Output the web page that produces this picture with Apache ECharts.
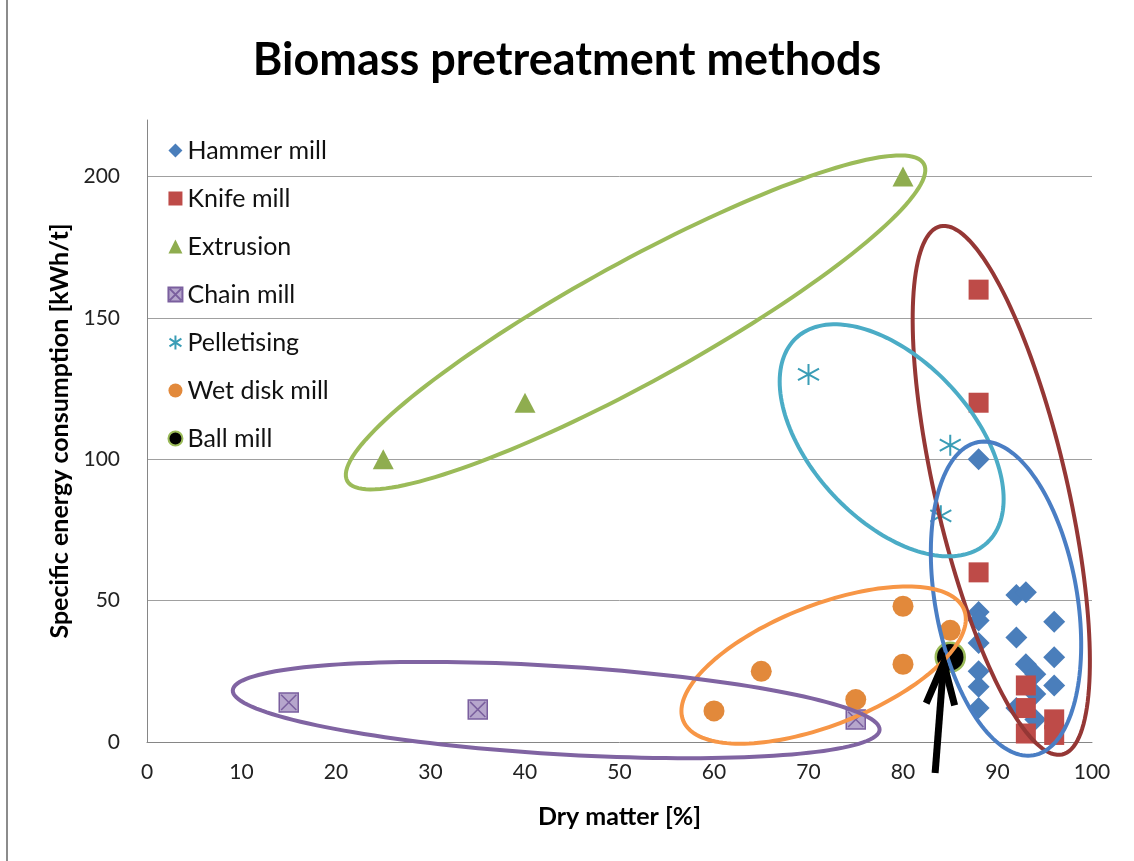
<!DOCTYPE html>
<html>
<head>
<meta charset="utf-8">
<script src="https://cdn.jsdelivr.net/npm/echarts@6/dist/echarts.min.js"></script>
<style>
  html, body { margin: 0; padding: 0; background: #fff; }
  #chart { width: 1134px; height: 861px; }
</style>
</head>
<body>
<div id="chart"></div>
<script>
// values: [dry matter %, specific energy kWh/t]
const seriesNames = ['Hammer mill', 'Knife mill', 'Extrusion', 'Chain mill', 'Pelletising', 'Wet disk mill', 'Ball mill'];

const hammerMill = [
  [88, 100], [92, 52], [93, 53], [88, 46], [88, 43], [96, 42.5], [92, 37], [88, 35],
  [96, 30], [93, 27.5], [88, 25], [94, 24], [96, 20], [88, 19.5], [94, 17], [88, 12],
  [92, 12], [94, 8]
];
const knifeMill = [[88, 160], [88, 120], [88, 60], [93, 20], [93, 12], [93, 3], [96, 8], [96, 2.5]];
const extrusion = [[25, 100], [40, 120], [80, 200]];
const chainMill = [[15, 14], [35, 11.5], [75, 8]];
const pelletising = [[70, 130], [85, 105], [84, 80]];
const wetDiskMill = [[60, 11], [65, 25], [75, 15], [80, 48], [80, 27.5], [85, 39.5]];
const ballMill = [[85, 30]];

// hand drawn ellipses round each group: centre in data units, radii in px, rotation in degrees
const ellipses = [
  { c: [51.7, 148.4], a: 329, b: 60, rot: -28.8, color: '#9BBB59' },
  { c: [90.4, 89], a: 271, b: 66, rot: 77, color: '#953735' },
  { c: [78.8, 106.7], a: 140, b: 80, rot: 47, color: '#4BACC6' },
  { c: [90.9, 50.7], a: 159, b: 71, rot: 80, color: '#4A7EC4' },
  { c: [71.6, 27.2], a: 151, b: 60, rot: -21.5, color: '#F79646' },
  { c: [43.3, 11.3], a: 324, b: 44, rot: 3.5, color: '#8064A2' }
];
// arrow pointing at the ball mill point: [x0, y0, x1, y1]
const arrow = [[83.4, -11, 84.3, 28]];

const FONT = 'Lato';

function renderEllipse(params, api) {
  const e = ellipses[params.dataIndex];
  const c = api.coord([api.value(0), api.value(1)]);
  const r = e.rot * Math.PI / 180;
  const pts = [];
  for (let i = 0; i < 160; i++) {
    const t = i / 160 * Math.PI * 2;
    const x = e.a * Math.cos(t), y = e.b * Math.sin(t);
    pts.push([c[0] + x * Math.cos(r) - y * Math.sin(r), c[1] + x * Math.sin(r) + y * Math.cos(r)]);
  }
  return {
    type: 'polygon',
    shape: { points: pts },
    style: { fill: 'none', stroke: e.color, lineWidth: 4 }
  };
}

function renderArrow(params, api) {
  const p0 = api.coord([api.value(0), api.value(1)]);
  const p1 = api.coord([api.value(2), api.value(3)]);
  const ang = Math.atan2(p0[1] - p1[1], p0[0] - p1[0]);
  const L = 44, s = 0.33;
  const h1 = [p1[0] + L * Math.cos(ang + s), p1[1] + L * Math.sin(ang + s)];
  const h2 = [p1[0] + L * Math.cos(ang - s), p1[1] + L * Math.sin(ang - s)];
  return {
    type: 'group',
    children: [
      { type: 'line', shape: { x1: p0[0], y1: p0[1], x2: p1[0], y2: p1[1] }, style: { stroke: '#000', lineWidth: 7 } },
      { type: 'polyline', shape: { points: [h1, p1, h2] }, style: { stroke: '#000', lineWidth: 7, fill: 'none' } }
    ]
  };
}

const chart = echarts.init(document.getElementById('chart'));
chart.setOption({
  animation: false,
  backgroundColor: '#fff',
  textStyle: { fontFamily: FONT },
  title: {
    text: 'Biomass pretreatment methods',
    left: 'center',
    top: 38,
    padding: [0, 0, 0, 12],
    textStyle: { fontFamily: FONT, fontSize: 45, fontWeight: 'bold', color: '#000' }
  },
  graphic: [
    { type: 'line', shape: { x1: 7, y1: 0, x2: 7, y2: 861 }, style: { stroke: '#8c8c8c', lineWidth: 2 } }
  ],
  legend: {
    data: seriesNames,
    orient: 'vertical',
    left: 162,
    top: 133,
    itemWidth: 14,
    itemHeight: 14,
    itemGap: 23,
    textStyle: { fontFamily: FONT, fontSize: 25, lineHeight: 25, color: '#111' }
  },
  grid: { left: 147, right: 42, top: 120, bottom: 119, containLabel: false },
  xAxis: {
    type: 'value',
    min: 0,
    max: 100,
    interval: 10,
    name: 'Dry matter [%]',
    nameLocation: 'middle',
    nameGap: 62,
    nameTextStyle: { fontFamily: FONT, fontSize: 25, fontWeight: 'bold', color: '#000' },
    axisLine: { show: true, lineStyle: { color: '#868686', width: 1 } },
    axisTick: { show: false },
    axisLabel: { fontSize: 21, color: '#222', margin: 20 },
    splitLine: { show: false }
  },
  yAxis: {
    type: 'value',
    min: 0,
    max: 220,
    interval: 50,
    name: 'Specific energy consumption [kWh/t]',
    nameLocation: 'middle',
    nameGap: 74,
    nameTextStyle: { fontFamily: FONT, fontSize: 25, fontWeight: 'bold', color: '#000' },
    axisLine: { show: true, lineStyle: { color: '#868686', width: 1 } },
    axisTick: { show: false },
    axisLabel: { fontSize: 21, color: '#222', margin: 27, showMaxLabel: false },
    splitLine: { show: true, showMaxLine: false, showMinLine: false, lineStyle: { color: '#a0a0a0', width: 1 } }
  },
  series: [
    {
      name: 'Hammer mill', type: 'scatter', data: hammerMill,
      symbol: 'diamond', symbolSize: 22,
      itemStyle: { color: '#4A7EBB', opacity: 1 }
    },
    {
      name: 'Knife mill', type: 'scatter', data: knifeMill,
      symbol: 'rect', symbolSize: 20,
      itemStyle: { color: '#BE4B48', opacity: 1 }
    },
    {
      name: 'Extrusion', type: 'scatter', data: extrusion,
      symbol: 'triangle', symbolSize: [21, 20],
      itemStyle: { color: '#8FAD4F', opacity: 1 }
    },
    {
      name: 'Chain mill', type: 'scatter', data: chainMill,
      symbol: 'path://M0,0H20V20H0Z M2,2L18,18 M18,2L2,18', symbolSize: 19,
      itemStyle: { color: '#B6A6CC', borderColor: '#7A5F9E', borderWidth: 1.5, opacity: 1 }
    },
    {
      name: 'Pelletising', type: 'scatter', data: pelletising,
      symbol: 'path://M10,0L10,20 M1.5,4.5L18.5,15.5 M1.5,15.5L18.5,4.5', symbolSize: 21,
      itemStyle: { color: 'none', borderColor: '#3A9DB6', borderWidth: 2, opacity: 1 }
    },
    {
      name: 'Wet disk mill', type: 'scatter', data: wetDiskMill,
      symbol: 'circle', symbolSize: 21,
      itemStyle: { color: '#E2893B', opacity: 1 }
    },
    {
      name: 'Ball mill', type: 'scatter', data: ballMill,
      symbol: 'circle', symbolSize: 29,
      itemStyle: { color: '#000', borderColor: '#9BBB59', borderWidth: 2.5, opacity: 1 }
    },
    {
      type: 'custom', name: 'groups', renderItem: renderEllipse,
      data: ellipses.map(e => e.c), encode: { x: 0, y: 1 }, z: 5, silent: true, clip: false
    },
    {
      type: 'custom', name: 'arrow', renderItem: renderArrow,
      data: arrow, encode: { x: [0, 2], y: [1, 3] }, z: 6, silent: true, clip: false
    }
  ]
});
</script>
</body>
</html>
